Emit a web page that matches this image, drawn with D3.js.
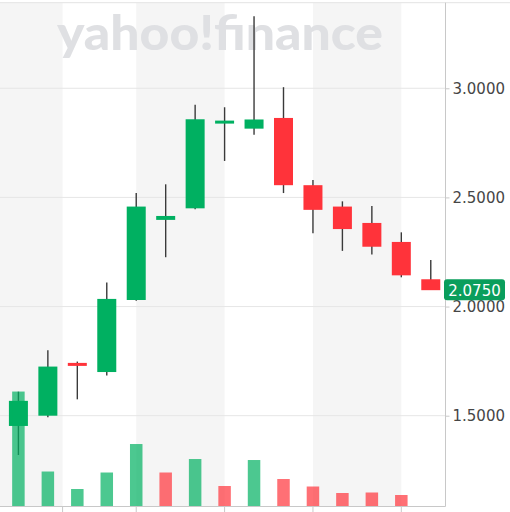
<!DOCTYPE html>
<html>
<head>
<meta charset="utf-8">
<script src="https://cdn.jsdelivr.net/npm/d3@7"></script>
<style>
  html, body { margin: 0; padding: 0; background: #fff; }
  svg { display: block; }
</style>
</head>
<body>
<script>
// ---- data ----
const openP  = [1.453, 1.500, 1.735, 1.700, 2.030, 2.397, 2.450, 2.833, 2.815, 2.864, 2.556, 2.458, 2.383, 2.296, 2.125];
const highP  = [1.610, 1.800, 1.748, 2.110, 2.520, 2.560, 2.924, 2.913, 3.330, 3.005, 2.580, 2.482, 2.461, 2.340, 2.213];
const lowP   = [1.320, 1.493, 1.575, 1.684, 2.027, 2.226, 2.446, 2.667, 2.787, 2.520, 2.336, 2.255, 2.238, 2.134, 2.076];
const closeP = [1.568, 1.725, 1.725, 2.035, 2.458, 2.415, 2.858, 2.845, 2.857, 2.556, 2.443, 2.355, 2.274, 2.143, 2.075];
const volume = [115, 35, 17.5, 34, 62.5, 34, 47.5, 20.5, 46.5, 27.5, 20, 13.5, 14, 11.5];
const volDir = ["up","up","up","up","up","down","up","down","up","down","down","down","down","down"];
const periodBreaks = [1.5, 4, 7, 10, 13];
const yTicks = [1.5, 2.0, 2.5, 3.0];
const watermark = "yahoo!finance";

// ---- layout ----
const W = 510, H = 512;
const plotL = 0, plotR = 445.5, plotT = 2.7, plotB = 506.5;
const green = "#00b061", red = "#ff333a";

const svg = d3.select("body").append("svg").attr("width", W).attr("height", H);

const x = d3.scaleLinear().domain([-0.625, 14.5]).range([plotL, plotR]);
const y = d3.scaleLinear().domain([1.084, 3.392]).range([plotB, plotT]);
const yv = d3.scaleLinear().domain([0, 504]).range([plotB, plotT]);

// shaded bands
const bandEdges = [x.domain()[0], ...periodBreaks, x.domain()[1]];
const bands = [];
for (let i = 0; i < bandEdges.length - 1; i += 2) bands.push([bandEdges[i], bandEdges[i+1]]);
svg.append("g").selectAll("rect").data(bands).join("rect")
  .attr("x", d => x(d[0])).attr("width", d => x(d[1]) - x(d[0]))
  .attr("y", plotT).attr("height", plotB - plotT)
  .attr("fill", "#f5f5f5");

// grid
svg.append("g").selectAll("line").data(yTicks).join("line")
  .attr("x1", plotL).attr("x2", plotR)
  .attr("y1", d => y(d)).attr("y2", d => y(d))
  .attr("stroke", "#e6e6e6").attr("stroke-width", 1);

// watermark
svg.append("text")
  .attr("x", 57).attr("y", 50)
  .attr("textLength", 326).attr("lengthAdjust", "spacingAndGlyphs")
  .attr("font-family", "Lato, 'Open Sans', sans-serif")
  .attr("font-weight", 900).attr("font-size", 47)
  .attr("fill", "#dfe0e3")
  .text(watermark);

// candles
const idx = d3.range(openP.length);
const bodyW = 19;
const cg = svg.append("g");
cg.selectAll("line").data(idx).join("line")
  .attr("x1", i => x(i)).attr("x2", i => x(i))
  .attr("y1", i => y(highP[i])).attr("y2", i => y(lowP[i]))
  .attr("stroke", "#3a3a3a").attr("stroke-width", 1.4);
cg.selectAll("rect").data(idx).join("rect")
  .attr("x", i => x(i) - bodyW / 2).attr("width", bodyW)
  .attr("y", i => Math.min(y(openP[i]), y(closeP[i])) - (Math.abs(y(openP[i]) - y(closeP[i])) < 3 ? 1.5 : 0))
  .attr("height", i => Math.max(3, Math.abs(y(openP[i]) - y(closeP[i]))))
  .attr("fill", i => closeP[i] >= openP[i] ? green : red);

// volume
const volW = 12.5;
svg.append("g").selectAll("rect").data(volume).join("rect")
  .attr("x", (d, i) => x(i) - volW / 2).attr("width", volW)
  .attr("y", d => yv(d)).attr("height", d => plotB - yv(d))
  .attr("fill", (d, i) => volDir[i] === "up" ? green : red)
  .attr("fill-opacity", 0.7);

// frame
svg.append("line").attr("x1", 0).attr("x2", W).attr("y1", plotT).attr("y2", plotT)
  .attr("stroke", "#e3e3e3");
svg.append("line").attr("x1", plotR).attr("x2", plotR).attr("y1", plotT).attr("y2", plotB)
  .attr("stroke", "#c8c8c8");
svg.append("line").attr("x1", 0).attr("x2", plotR).attr("y1", plotB).attr("y2", plotB)
  .attr("stroke", "#c8c8c8");

// x ticks (bottom)
svg.append("g").selectAll("line").data(periodBreaks).join("line")
  .attr("x1", d => x(d)).attr("x2", d => x(d))
  .attr("y1", plotB).attr("y2", H)
  .attr("stroke", "#c8c8c8");

// y axis on right
const yAxis = d3.axisRight(y).tickValues(yTicks).tickFormat(d3.format(".4f")).tickSize(4).tickPadding(3);
const ga = svg.append("g").attr("transform", `translate(${plotR},0)`).call(yAxis);
ga.select(".domain").remove();
ga.selectAll(".tick line").attr("stroke", "#c8c8c8");
ga.selectAll(".tick text")
  .attr("font-family", "'DejaVu Sans', sans-serif").attr("font-size", 15)
  .attr("fill", "#464646");

// last price label
const last = closeP[closeP.length - 1];
const ly = y(last);
svg.append("rect").attr("x", 444).attr("y", ly - 11).attr("width", 61).attr("height", 21)
  .attr("rx", 3).attr("fill", "#0a9e5c");
svg.append("text").attr("x", 474.5).attr("y", ly + 5.5)
  .attr("text-anchor", "middle")
  .attr("font-family", "'DejaVu Sans', sans-serif").attr("font-size", 15)
  .attr("fill", "#fff").text(d3.format(".4f")(last));
</script>
</body>
</html>
